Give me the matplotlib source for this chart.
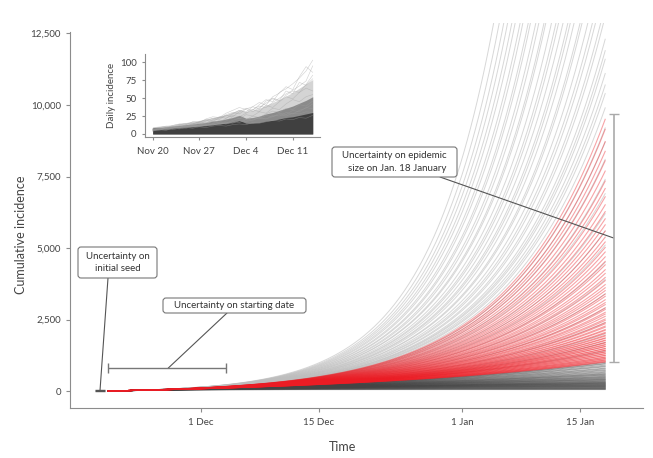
from datetime import datetime, timedelta

import numpy as np
import matplotlib
matplotlib.use("Agg")
from matplotlib import pyplot as plt
import matplotlib.dates as mdates
from matplotlib.patches import FancyBboxPatch
from matplotlib.transforms import IdentityTransform

plt.rcParams['font.family'] = ['Liberation Sans Narrow', 'Lato', 'DejaVu Sans']

# cumulative incidence on 18 January for each simulated trajectory
final_grey = [13100, 13500, 14300, 14800, 15600, 16700, 17100, 18400, 19300, 19900,
              21200, 22500, 23300, 24800, 26900, 27600, 29800, 31200, 33900, 35100,
              38300, 40100, 43600, 46200, 49800, 53400, 58100, 64700,
              12300, 11900, 11600, 11100, 10700, 10400, 9900, 9200, 8700, 8100,
              7400, 6900, 6200, 5600, 5100, 4500, 3900, 3400, 2900, 2400, 2000, 1700, 1400]
final_red = [9500, 9150, 8720, 8380, 8050, 7690, 7340, 7080, 6790, 6510, 6270, 6020,
             5810, 5590, 5380, 5210, 5020, 4860, 4690, 4530, 4410, 4240, 4110, 3970,
             3860, 3720, 3610, 3510, 3390, 3310, 3190, 3090, 3020, 2910, 2850, 2750,
             2690, 2610, 2520, 2470, 2390, 2350, 2270, 2230, 2150, 2120, 2050, 2020,
             1950, 1920, 1860, 1840, 1780, 1760, 1700, 1680, 1630, 1610, 1560, 1550,
             1490, 1480, 1430, 1420, 1370, 1360, 1310, 1300, 1250, 1240, 1190, 1180,
             1140, 1130, 1090, 1080, 1050, 1030, 1010]
final_dark = [1000, 965, 945, 905, 870, 845, 800, 775, 740, 715, 680, 655, 625, 600,
              585, 560, 545, 515, 500, 480, 465, 445, 430, 410, 400, 385, 370, 350,
              340, 325, 310, 300, 290, 275, 270, 255, 250, 240, 225, 220, 205, 200,
              190, 175, 170, 160, 150, 140, 130, 115, 110, 100, 90, 80, 70, 60, 50]

first_day = datetime(2019, 11, 20)
last_day = datetime(2020, 1, 18)
cases_per_day_at_start = 6

# uncertainty bars
seed_day = datetime(2019, 11, 19)
seed_range = [0, 25]
start_range = [datetime(2019, 11, 20), datetime(2019, 12, 4)]
start_bar_y = 800
size_day = datetime(2020, 1, 19)
size_range = [1000, 9700]

main_ticks = [datetime(2019, 12, 1), datetime(2019, 12, 15), datetime(2020, 1, 1), datetime(2020, 1, 15)]
main_tick_labels = ["1 Dec", "15 Dec", "1 Jan", "15 Jan"]
y_ticks = [0, 2500, 5000, 7500, 10000, 12500]

# inset: daily incidence, 20 Nov to 14 Dec
inset_days = [datetime(2019, 11, 20) + timedelta(days=i) for i in range(25)]
inset_core = [8, 8, 8, 9, 9, 10, 10, 11, 12, 13, 14, 15, 17, 19, 15, 15, 16, 18, 19, 21, 23, 24, 26, 28, 30]
inset_mid = [9, 9, 10, 11, 12, 13, 14, 15, 16, 18, 19, 21, 23, 26, 22, 23, 25, 28, 30, 33, 36, 39, 43, 47, 52]
inset_outer = [10, 11, 12, 13, 15, 16, 18, 19, 21, 23, 25, 27, 30, 33, 31, 33, 36, 40, 44, 48, 53, 58, 64, 70, 76]
inset_lines = [
    [5, 8, 7, 10, 9, 13, 12, 16, 19, 17, 23, 26, 24, 31, 36, 33, 41, 48, 45, 58, 63, 70, 78, 88, 103],
    [7, 6, 9, 8, 12, 11, 15, 14, 18, 22, 20, 27, 30, 28, 35, 38, 44, 40, 52, 57, 66, 62, 80, 94, 86],
    [4, 7, 6, 9, 11, 10, 14, 17, 15, 20, 24, 22, 28, 33, 31, 38, 35, 46, 50, 47, 60, 56, 72, 68, 77],
    [6, 5, 8, 10, 9, 12, 11, 15, 13, 18, 16, 22, 26, 24, 29, 34, 31, 40, 37, 45, 52, 49, 58, 64, 60],
    [5, 7, 9, 8, 11, 10, 13, 12, 16, 15, 19, 18, 24, 21, 27, 25, 31, 29, 36, 34, 42, 48, 45, 52, 55],
    [6, 8, 7, 9, 8, 11, 10, 13, 12, 14, 17, 15, 19, 22, 20, 25, 23, 28, 32, 30, 36, 34, 41, 39, 46],
    [4, 6, 5, 8, 7, 9, 11, 10, 12, 14, 13, 16, 15, 19, 18, 22, 21, 26, 24, 29, 27, 33, 31, 37, 35],
    [7, 6, 8, 7, 10, 9, 12, 11, 13, 12, 15, 14, 17, 16, 20, 19, 23, 21, 26, 25, 30, 28, 33, 36, 42],
    [6, 7, 6, 8, 9, 8, 10, 12, 11, 13, 15, 14, 16, 18, 17, 20, 22, 21, 24, 27, 25, 29, 28, 31, 30],
    [5, 6, 7, 6, 8, 9, 8, 10, 9, 11, 12, 11, 13, 14, 13, 16, 15, 17, 19, 18, 21, 20, 23, 22, 26],
    [8, 9, 11, 10, 13, 15, 14, 17, 20, 19, 22, 25, 29, 33, 30, 34, 39, 37, 44, 50, 56, 61, 67, 74, 95],
    [6, 9, 8, 12, 14, 13, 17, 16, 21, 24, 23, 29, 33, 37, 34, 31, 37, 43, 49, 46, 54, 60, 58, 69, 82],
]
inset_ticks = [datetime(2019, 11, 20), datetime(2019, 11, 27), datetime(2019, 12, 4), datetime(2019, 12, 11)]
inset_tick_labels = ["Nov 20", "Nov 27", "Dec 4", "Dec 11"]

W, H = 653, 458
spine_col = "#8c8c8c"
text_col = "#444444"


def growth_rate(final, days):
    lo, hi = -1.0, 0.6
    for _ in range(80):
        mid = (lo + hi) / 2
        if abs(mid) < 1e-9:
            mid = 1e-9
        size = cases_per_day_at_start * np.expm1(mid * days) / mid
        if size < final:
            lo = mid
        else:
            hi = mid
    return (lo + hi) / 2


def trajectory(final):
    days = (last_day - first_day).days
    r = growth_rate(final, days)
    t = np.linspace(0, days, 300)
    x = mdates.date2num(first_day) + t
    return x, cases_per_day_at_start * np.expm1(r * t) / r


fig = plt.figure(figsize=(W / 100, H / 100), dpi=100)
ax = fig.add_axes([70 / W, 50 / H, 573 / W, 385 / H])

for f in final_grey:
    x, y = trajectory(f)
    ax.plot(x, y, color="#bdbdbd", lw=0.7, alpha=0.6, zorder=1)
for f in final_dark:
    x, y = trajectory(f)
    ax.plot(x, y, color="#444444", lw=0.7, alpha=0.4, zorder=2)
for f in final_red:
    x, y = trajectory(f)
    ax.plot(x, y, color="#ec1c24", lw=0.8, alpha=0.4, zorder=3)

d0 = mdates.date2num(datetime(2019, 12, 1))
ax.set_xlim(d0 - 15.56, d0 + 52.49)
ax.set_ylim(-594, 12867)

# uncertainty bars
ax.errorbar(mdates.date2num(seed_day), np.mean(seed_range), yerr=np.ptp(seed_range) / 2,
            color="#555555", lw=1, capsize=3.5, zorder=5)
start_x = mdates.date2num(start_range)
ax.errorbar(start_x.mean(), start_bar_y, xerr=(start_x[1] - start_x[0]) / 2,
            color="#777777", lw=1, capsize=3.5, zorder=5)
ax.errorbar(mdates.date2num(size_day), np.mean(size_range), yerr=np.ptp(size_range) / 2,
            color="#aaaaaa", lw=1.2, capsize=3.5, zorder=5)

ax.set_xticks(mdates.date2num(main_ticks))
ax.set_xticklabels(main_tick_labels)
ax.set_yticks(y_ticks)
ax.set_yticklabels([f"{v:,}" for v in y_ticks])
for s in ["top", "right"]:
    ax.spines[s].set_visible(False)
ax.spines["left"].set_bounds(-594, 12560)
for s in ["left", "bottom"]:
    ax.spines[s].set_color(spine_col)
ax.tick_params(colors=spine_col, labelcolor=text_col, labelsize=7, length=3, width=0.8)
ax.tick_params(axis="x", pad=4)
ax.set_xlabel("Time", fontsize=9, color=text_col)
ax.xaxis.set_label_coords((343 - 70) / 573, -0.085)
ax.set_ylabel("Cumulative incidence", fontsize=9, color=text_col)
ax.yaxis.set_label_coords(-0.075, 0.45)


# annotation boxes, laid out in figure pixels
def note(text, left, top, w, h, line_from, target, align="center"):
    box = FancyBboxPatch((left, H - top - h), w, h, boxstyle="round,pad=0,rounding_size=3",
                         transform=IdentityTransform(), fc="white", ec="#777777", lw=0.8, zorder=6)
    fig.add_artist(box)
    fig.text((left + w / 2) / W, 1 - (top + h / 2) / H, text, ha="center", va="center",
             multialignment=align, fontsize=7, color="#333333", linespacing=1.45, zorder=7)
    ax.annotate("", xy=target, xycoords="data",
                xytext=(line_from[0], H - line_from[1]), textcoords="figure pixels",
                arrowprops=dict(arrowstyle="-", color="#555555", lw=0.8, shrinkA=0, shrinkB=0),
                zorder=4)


note("Uncertainty on\ninitial seed", 78, 247, 79, 31, (108, 278),
     (mdates.date2num(seed_day), seed_range[0]))
note("Uncertainty on starting date", 163, 298, 143, 15, (227, 313),
     (d0 - 3.9, start_bar_y))
note("Uncertainty on epidemic\nsize on Jan. 18 January", 332, 147, 125, 30, (440, 177),
     (mdates.date2num(size_day), np.mean(size_range)), align="right")

# inset with daily incidence
ins = fig.add_axes([145 / W, (H - 137) / H, 175 / W, 83 / H])
ins.patch.set_alpha(0)
xd = mdates.date2num(inset_days)
ins.fill_between(xd, 0, inset_outer, color="#555555", alpha=0.25, lw=0)
ins.fill_between(xd, 0, inset_mid, color="#444444", alpha=0.5, lw=0)
ins.fill_between(xd, 0, inset_core, color="#333333", alpha=0.85, lw=0)
for line in inset_lines:
    ins.plot(xd, line, color="#a0a0a0", lw=0.4, alpha=0.5)
ins.set_xlim(mdates.date2num(datetime(2019, 11, 20)) - 1.15, mdates.date2num(datetime(2019, 12, 15)) + 0.09)
ins.set_ylim(-4.2, 111.6)
ins.set_xticks(mdates.date2num(inset_ticks))
ins.set_xticklabels(inset_tick_labels)
ins.set_yticks([0, 25, 50, 75, 100])
for s in ["top", "right"]:
    ins.spines[s].set_visible(False)
for s in ["left", "bottom"]:
    ins.spines[s].set_color(spine_col)
ins.tick_params(colors=spine_col, labelcolor=text_col, labelsize=7, length=2.5, width=0.8)
ins.tick_params(axis="x", pad=5)
ins.set_ylabel("Daily incidence", fontsize=7, color=text_col, labelpad=3)

fig.savefig("out.png", dpi=100)
